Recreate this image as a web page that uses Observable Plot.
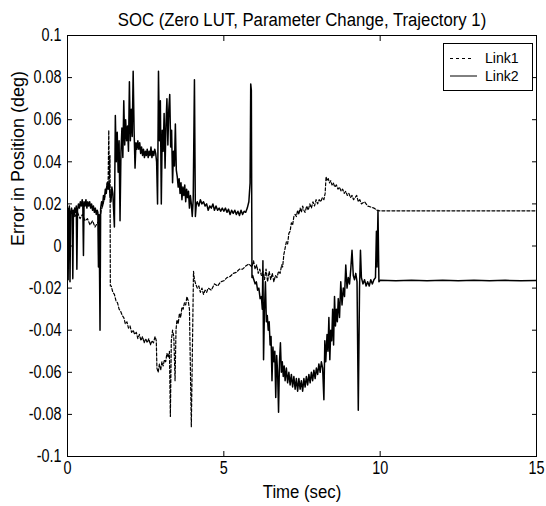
<!DOCTYPE html>
<html>
<head>
<meta charset="utf-8">
<script src="https://cdn.jsdelivr.net/npm/d3@7"></script>
<script src="https://cdn.jsdelivr.net/npm/@observablehq/plot@0.6"></script>
<style>
  html, body { margin: 0; padding: 0; background: #fff; }
  svg { display: block; }
</style>
</head>
<body>
<div id="chart"></div>
<script>
// ---------- data ----------
const titleText = "SOC (Zero LUT, Parameter Change, Trajectory 1)";
const xLabel = "Time (sec)";
const yLabel = "Error in Position (deg)";
const seriesNames = ["Link1", "Link2"];

const timeTicks = [0, 5, 10, 15];
const timeTickLabels = ["0", "5", "10", "15"];
const errorTicks = [-0.1, -0.08, -0.06, -0.04, -0.02, 0, 0.02, 0.04, 0.06, 0.08, 0.1];
const errorTickLabels = ["-0.1", "-0.08", "-0.06", "-0.04", "-0.02", "0", "0.02", "0.04", "0.06", "0.08", "0.1"];

// Link1 (dashed): [time (sec), error (deg)]
const link1 = [
  [0,0.016],[0.08,0.015],[0.16,0.017],[0.24,0.014],[0.32,0.016],[0.4,0.013],[0.48,0.015],[0.56,0.012],
  [0.64,0.013],[0.72,0.01],[0.8,0.012],[0.88,0.009],[0.96,0.011],[1.02,0.012],[1.08,0.017],[1.14,0.02],
  [1.2,0.024],[1.26,0.029],[1.3,0.031],[1.32,0.055],[1.34,0.032],[1.36,0.043],[1.37,-0.019],
  [1.4,-0.019],[1.45,-0.022],[1.5,-0.023],[1.55,-0.026],[1.6,-0.027],[1.65,-0.03],[1.7,-0.031],[1.75,-0.033],
  [1.8,-0.034],[1.85,-0.037],[1.9,-0.036],[1.95,-0.039],[2.0,-0.038],[2.05,-0.041],[2.1,-0.04],[2.15,-0.042],
  [2.2,-0.041],[2.25,-0.044],[2.3,-0.042],[2.35,-0.045],[2.4,-0.043],[2.45,-0.046],[2.5,-0.044],[2.55,-0.046],
  [2.6,-0.044],[2.65,-0.047],[2.7,-0.045],[2.75,-0.046],[2.8,-0.043],[2.84,-0.045],
  [2.86,-0.058],[2.9,-0.06],[2.94,-0.056],[2.98,-0.059],[3.02,-0.055],[3.06,-0.057],[3.1,-0.054],[3.14,-0.055],
  [3.18,-0.051],[3.22,-0.053],[3.26,-0.05],[3.29,-0.081],[3.32,-0.045],[3.36,-0.04],[3.4,-0.043],[3.44,-0.064],
  [3.47,-0.04],[3.5,-0.035],[3.54,-0.037],[3.58,-0.032],[3.62,-0.034],[3.66,-0.029],[3.7,-0.03],[3.74,-0.027],
  [3.78,-0.028],[3.82,-0.024],[3.86,-0.026],[3.9,-0.03],[3.96,-0.086],[4.03,-0.012],[4.06,-0.016],
  [4.1,-0.018],[4.15,-0.02],[4.2,-0.019],[4.25,-0.022],[4.3,-0.02],[4.35,-0.023],[4.4,-0.021],[4.45,-0.022],
  [4.5,-0.02],[4.6,-0.021],[4.7,-0.018],[4.8,-0.019],[4.9,-0.017],[5.0,-0.0165],[5.1,-0.015],[5.2,-0.0145],
  [5.3,-0.013],[5.4,-0.0125],[5.5,-0.011],[5.6,-0.011],[5.7,-0.0095],[5.8,-0.0085],[5.9,-0.01],[5.95,-0.007],
  [6.0,-0.011],[6.05,-0.009],[6.1,-0.013],[6.15,-0.011],[6.2,-0.014],[6.25,-0.012],[6.3,-0.016],[6.35,-0.011],
  [6.4,-0.017],[6.45,-0.012],[6.5,-0.016],[6.55,-0.013],[6.6,-0.017],[6.65,-0.014],[6.7,-0.015],[6.75,-0.012],
  [6.8,-0.013],[6.85,-0.009],[6.88,-0.01],[6.92,-0.004],[6.96,-0.001],[7.0,0.002],[7.04,0.001],[7.08,0.006],
  [7.12,0.007],[7.16,0.011],[7.2,0.01],[7.24,0.014],[7.28,0.015],[7.32,0.014],[7.36,0.017],[7.4,0.015],
  [7.44,0.018],[7.48,0.016],[7.52,0.019],[7.56,0.017],[7.6,0.016],[7.65,0.019],[7.7,0.017],[7.75,0.02],
  [7.8,0.018],[7.85,0.021],[7.9,0.019],[7.95,0.022],[8.0,0.02],[8.05,0.022],[8.1,0.021],[8.15,0.023],
  [8.2,0.022],[8.24,0.025],[8.27,0.033],[8.3,0.031],[8.34,0.032],[8.38,0.03],[8.42,0.031],[8.46,0.029],
  [8.5,0.03],[8.55,0.028],[8.6,0.029],[8.65,0.027],[8.7,0.028],[8.75,0.026],[8.8,0.027],[8.85,0.025],
  [8.9,0.026],[8.95,0.024],[9.0,0.025],[9.05,0.023],[9.1,0.024],[9.15,0.022],[9.2,0.023],[9.25,0.024],
  [9.3,0.021],[9.35,0.022],[9.4,0.02],[9.5,0.021],[9.6,0.019],[9.7,0.0185],[9.8,0.018],[9.9,0.017],
  [10,0.0167],[15,0.0167]
];

// Link2 (solid): [time (sec), error (deg)]
const link2 = [
  [0,0.018],[0.02,-0.016],[0.04,0.017],[0.06,0.019],[0.08,-0.017],[0.1,0.016],[0.13,0.018],[0.15,0.015],
  [0.17,-0.0155],[0.19,0.017],[0.21,0.014],[0.23,0.018],[0.26,0.016],[0.28,0.019],[0.3,-0.011],[0.32,0.017],
  [0.35,0.02],[0.38,0.018],[0.41,0.021],[0.44,0.019],[0.47,0.022],[0.49,0.019],[0.51,-0.0045],[0.53,0.021],
  [0.56,0.019],[0.59,0.022],[0.62,0.018],[0.65,0.021],[0.68,0.019],[0.71,0.021],[0.74,0.018],[0.77,0.02],
  [0.8,0.017],[0.83,0.019],[0.86,0.016],[0.89,0.018],[0.92,0.015],[0.95,0.017],[0.97,0.016],[0.99,-0.01],
  [1.01,0.015],[1.04,-0.04],[1.06,0.018],[1.09,0.021],[1.12,0.019],[1.15,0.024],[1.18,0.022],[1.21,0.027],
  [1.24,0.025],[1.27,0.03],[1.3,0.027],[1.33,0.031],[1.36,0.024],[1.39,0.021],[1.42,0.028],[1.45,0.025],
  [1.5,0.009],[1.53,0.062],[1.56,0.04],[1.59,0.054],[1.62,0.035],[1.65,0.05],[1.68,0.012],[1.71,0.045],
  [1.74,0.056],[1.77,0.042],[1.8,0.069],[1.83,0.048],[1.86,0.06],[1.89,0.05],[1.92,0.057],[1.95,0.045],
  [1.98,0.078],[2.01,0.05],[2.04,0.065],[2.07,0.052],[2.1,0.083],[2.13,0.055],[2.16,0.037],[2.19,0.049],
  [2.22,0.046],[2.25,0.05],[2.28,0.046],[2.31,0.049],[2.34,0.044],[2.37,0.047],[2.4,0.043],[2.43,0.046],
  [2.46,0.042],[2.49,0.045],[2.52,0.043],[2.55,0.046],[2.58,0.042],[2.61,0.045],[2.64,0.043],[2.67,0.047],
  [2.7,0.042],[2.73,0.045],[2.76,0.043],[2.79,0.046],[2.82,0.044],
  [2.85,0.04],[2.88,0.02],[2.91,0.083],[2.94,0.05],[2.97,0.069],[3.0,0.02],[3.03,0.055],[3.06,0.045],
  [3.09,0.063],[3.12,0.037],[3.15,0.058],[3.18,0.07],[3.21,0.048],[3.24,0.065],[3.27,0.072],[3.3,0.047],
  [3.33,0.055],[3.36,0.03],[3.39,0.045],[3.42,0.038],[3.45,0.058],[3.48,0.036],[3.51,0.033],[3.54,0.028],
  [3.57,0.032],[3.6,0.025],[3.63,0.03],[3.66,0.022],[3.69,0.028],[3.72,0.024],[3.75,0.029],[3.78,0.021],
  [3.81,0.027],[3.84,0.023],[3.87,0.026],[3.9,0.018],[3.93,0.024],[3.96,0.02],[3.99,0.014],[4.02,0.022],
  [4.06,0.079],[4.09,0.014],[4.12,0.02],
  [4.15,0.021],[4.2,0.019],[4.25,0.022],[4.3,0.02],[4.35,0.021],[4.4,0.019],[4.45,0.02],[4.5,0.017],
  [4.55,0.019],[4.6,0.018],[4.65,0.02],[4.7,0.017],[4.75,0.019],[4.8,0.017],[4.85,0.018],[4.9,0.0165],
  [4.95,0.018],[5.0,0.0165],[5.05,0.018],[5.1,0.016],[5.15,0.0175],[5.2,0.015],[5.25,0.017],[5.3,0.0155],
  [5.35,0.017],[5.4,0.015],[5.45,0.0165],[5.5,0.0145],[5.55,0.017],[5.6,0.015],[5.65,0.0165],[5.7,0.016],
  [5.75,0.018],[5.8,0.021],[5.84,0.03],[5.86,0.077],[5.88,0.074],[5.9,-0.015],
  [5.92,-0.014],[5.96,-0.016],[6.0,-0.018],[6.04,-0.017],[6.08,-0.021],[6.12,-0.02],[6.16,-0.025],[6.2,-0.024],
  [6.23,-0.03],[6.25,-0.007],[6.27,-0.054],[6.3,-0.03],[6.33,-0.017],[6.36,-0.036],[6.39,-0.033],[6.42,-0.04],
  [6.45,-0.036],[6.48,-0.047],[6.51,-0.043],[6.54,-0.064],[6.57,-0.048],[6.6,-0.055],[6.63,-0.05],[6.66,-0.072],
  [6.69,-0.052],[6.72,-0.06],[6.75,-0.079],[6.78,-0.055],[6.81,-0.046],[6.84,-0.06],[6.87,-0.055],[6.9,-0.062],
  [6.93,-0.057],[6.96,-0.064],[7.0,-0.058],[7.04,-0.065],[7.08,-0.06],[7.12,-0.066],[7.16,-0.061],[7.2,-0.067],
  [7.24,-0.062],[7.28,-0.068],[7.32,-0.063],[7.36,-0.069],[7.4,-0.063],[7.44,-0.068],[7.48,-0.064],[7.52,-0.069],
  [7.56,-0.063],[7.6,-0.067],[7.64,-0.062],[7.68,-0.066],[7.72,-0.061],[7.76,-0.065],[7.8,-0.06],[7.84,-0.064],
  [7.88,-0.059],[7.92,-0.063],[7.96,-0.058],[8.0,-0.061],[8.04,-0.056],[8.08,-0.06],[8.12,-0.055],[8.16,-0.058],
  [8.2,-0.073],[8.23,-0.045],[8.26,-0.055],[8.3,-0.042],[8.33,-0.05],[8.36,-0.034],[8.39,-0.054],[8.42,-0.04],
  [8.45,-0.045],[8.48,-0.03],[8.51,-0.047],[8.54,-0.024],[8.57,-0.038],[8.6,-0.03],[8.63,-0.036],[8.66,-0.025],
  [8.7,-0.034],[8.74,-0.017],[8.78,-0.028],[8.82,-0.02],[8.86,-0.024],[8.9,-0.009],[8.94,-0.02],[8.98,-0.015],
  [9.02,-0.018],[9.06,-0.011],[9.1,-0.002],[9.14,-0.014],[9.18,-0.016],[9.22,-0.013],[9.26,-0.017],[9.3,-0.078],
  [9.34,-0.02],[9.37,-0.002],[9.4,-0.015],[9.45,-0.018],[9.5,-0.016],[9.55,-0.019],[9.6,-0.017],[9.65,-0.019],
  [9.7,-0.016],[9.75,-0.018],[9.8,-0.016],[9.85,-0.015],[9.88,0.007],[9.9,-0.01],[9.93,0.017],[9.96,-0.017],
  [10.0,-0.0163],[10.5,-0.0165],[11.0,-0.0163],[11.5,-0.0165],[12.0,-0.0163],[12.5,-0.0165],
  [13.0,-0.0163],[13.5,-0.0165],[14.0,-0.0163],[14.5,-0.0165],[15,-0.0164]
];

// ---------- chart ----------
const font = "'Liberation Sans', Arial, Helvetica, sans-serif";
const fmtX = d => timeTickLabels[timeTicks.indexOf(d)];
const fmtY = d => errorTickLabels[errorTicks.indexOf(d)];
const noLabel = () => "";

const chart = Plot.plot({
  width: 546,
  height: 506,
  marginLeft: 67,
  marginRight: 10,
  marginTop: 35,
  marginBottom: 50,
  style: { fontFamily: font, fontSize: "18px", background: "white", color: "black", overflow: "visible" },
  x: { domain: [0, 15] },
  y: { domain: [-0.1, 0.1] },
  marks: [
    Plot.line(link1, { x: d => d[0], y: d => d[1], stroke: "black", strokeWidth: 1.2, strokeDasharray: "3,2", clip: true }),
    Plot.line(link2, { x: d => d[0], y: d => d[1], stroke: "black", strokeWidth: 1.5, clip: true }),
    Plot.frame({ stroke: "black", strokeWidth: 1 }),
    // inward tick marks on all four sides (MATLAB style)
    Plot.axisX(timeTicks, { anchor: "bottom", tickSize: 5, dy: -5, tickFormat: noLabel, label: null }),
    Plot.axisX(timeTicks, { anchor: "top", tickSize: 5, dy: 5, tickFormat: noLabel, label: null }),
    Plot.axisY(errorTicks, { anchor: "left", tickSize: 5, dx: 5, tickFormat: noLabel, label: null }),
    Plot.axisY(errorTicks, { anchor: "right", tickSize: 5, dx: -5, tickFormat: noLabel, label: null }),
    // tick labels
    Plot.axisX(timeTicks, { anchor: "bottom", tickSize: 0, tickPadding: 5, tickFormat: fmtX, fontSize: 18, label: null }),
    Plot.axisY(errorTicks, { anchor: "left", tickSize: 0, tickPadding: 6, tickFormat: fmtY, fontSize: 18, label: null }),
    // title and axis titles
    Plot.text([titleText], { frameAnchor: "top", dy: -15, lineAnchor: "middle", text: d => d, fontSize: 18 }),
    Plot.text([xLabel], { frameAnchor: "bottom", dy: 36, lineAnchor: "middle", text: d => d, fontSize: 18 }),
    Plot.text([yLabel], { frameAnchor: "left", dx: -49, rotate: -90, lineAnchor: "middle", text: d => d, fontSize: 18 })
  ]
});

document.getElementById("chart").appendChild(chart);

// Narrow texts horizontally (tall, narrow screen font as in the reference)
function squeeze(selection, s) {
  selection.each(function () {
    const w = this.getComputedTextLength();
    if (w > 0) {
      this.setAttribute("textLength", (w * s).toFixed(2));
      this.setAttribute("lengthAdjust", "spacingAndGlyphs");
    }
  });
}
const svg = d3.select(chart);
const tickLabelSet = new Set([...timeTickLabels, ...errorTickLabels]);
squeeze(svg.selectAll("text").filter(function () {
  return tickLabelSet.has(this.textContent);
}), 0.8);
squeeze(svg.selectAll("text").filter(function () {
  const c = this.textContent;
  return c === titleText || c === xLabel;
}), 0.93);

// Legend (MATLAB style box, top right inside the axes)
const lg = svg.append("g")
  .attr("font-family", font).attr("font-size", 15).attr("fill", "black")
  .attr("text-anchor", "start");
lg.append("rect")
  .attr("x", 443.5).attr("y", 43.5).attr("width", 89).attr("height", 47)
  .attr("fill", "white").attr("stroke", "black").attr("stroke-width", 1);
seriesNames.forEach((name, i) => {
  const yy = 58 + i * 17.5;
  lg.append("line")
    .attr("x1", 450).attr("x2", i === 0 ? 472 : 477)
    .attr("y1", yy + 0.5).attr("y2", yy + 0.5)
    .attr("stroke", "black").attr("stroke-width", 1)
    .attr("stroke-dasharray", i === 0 ? "3,3" : null);
  lg.append("text")
    .attr("text-anchor", "start")
    .attr("x", 485).attr("y", yy)
    .attr("dy", "0.36em")
    .text(name);
});
squeeze(lg.selectAll("text"), 0.94);
</script>
</body>
</html>
